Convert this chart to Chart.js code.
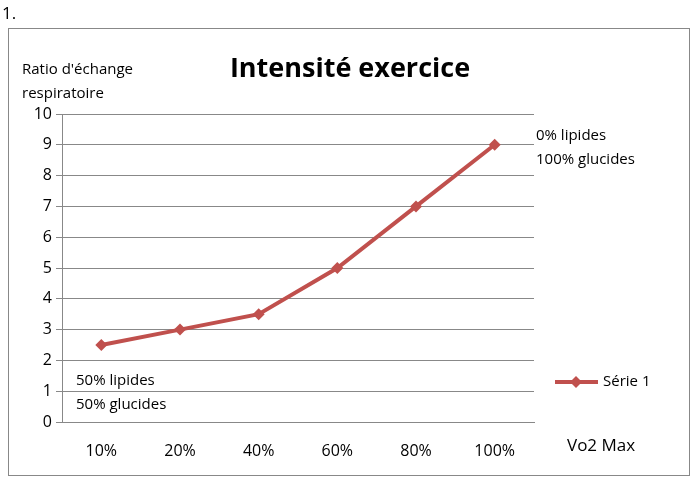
<!DOCTYPE html>
<html>
<head>
<meta charset="utf-8">
<script src="https://cdn.jsdelivr.net/npm/chart.js@4"></script>
<style>
  body { margin: 0; background: #fff; }
  #wrap { width: 695px; height: 482px; position: relative; }
</style>
</head>
<body>
<div id="wrap"><canvas id="c"></canvas></div>
<script>
// ========= Data =========
const categories = ['10%', '20%', '40%', '60%', '80%', '100%'];
const ratioValues = [2.5, 3, 3.5, 5, 7, 9];
const seriesName = 'Série 1';
const fontFam = '"Open Sans", "Noto Sans", sans-serif';
const red = '#C0504D';

// ========= Extra texts =========
const decor = {
  id: 'decor',
  afterDraw(chart) {
    const ctx = chart.ctx;
    ctx.save();
    ctx.strokeStyle = '#888';
    ctx.lineWidth = 1;
    ctx.strokeRect(8.5, 28.5, 681, 447);
    ctx.fillStyle = '#000';
    ctx.textBaseline = 'middle';
    ctx.font = '17px ' + fontFam;
    ctx.fillText('1.', 2, 14);
    ctx.font = 'bold 27px ' + fontFam;
    ctx.textAlign = 'center';
    ctx.fillText('Intensité exercice', 350, 69);
    ctx.textAlign = 'left';
    ctx.font = '15px ' + fontFam;
    ctx.fillText("Ratio d'échange", 22, 70);
    ctx.fillText('respiratoire', 22, 94);
    ctx.fillText('0% lipides', 536, 136);
    ctx.fillText('100% glucides', 536, 160);
    ctx.fillText('50% lipides', 76, 381);
    ctx.fillText('50% glucides', 76, 405);
    ctx.fillText(seriesName, 603, 382);
    ctx.font = '17px ' + fontFam;
    ctx.fillText('Vo2 Max', 567, 446);
    // legend marker
    ctx.strokeStyle = red; ctx.lineWidth = 4;
    ctx.beginPath(); ctx.moveTo(555, 382); ctx.lineTo(598, 382); ctx.stroke();
    ctx.fillStyle = red;
    ctx.beginPath();
    ctx.moveTo(576, 376); ctx.lineTo(582, 382); ctx.lineTo(576, 388); ctx.lineTo(570, 382);
    ctx.closePath(); ctx.fill();
    ctx.restore();
  }
};

new Chart(document.getElementById('c'), {
  type: 'line',
  data: {
    labels: categories,
    datasets: [{
      label: seriesName,
      data: ratioValues,
      borderColor: red,
      backgroundColor: red,
      borderWidth: 4,
      pointStyle: 'rectRot',
      pointRadius: 6,
      pointBorderWidth: 0,
      tension: 0
    }]
  },
  options: {
    responsive: true,
    maintainAspectRatio: false,
    animation: false,
    layout: { padding: { top: 114, right: 161, bottom: 8, left: 0 } },
    plugins: { legend: { display: false }, tooltip: { enabled: false } },
    scales: {
      x: {
        offset: true,
        afterFit(s) { s.height = 52; },
        grid: { display: false, drawTicks: true, tickLength: 6, color: '#888' },
        border: { color: '#888' },
        ticks: { color: '#000', font: { size: 16, family: fontFam }, padding: 14 }
      },
      y: {
        min: 0, max: 10,
        afterFit(s) { s.width = 62; },
        grid: { color: '#888', tickLength: 6 },
        border: { color: '#888' },
        ticks: { stepSize: 1, color: '#000', font: { size: 16, family: fontFam }, padding: 4 }
      }
    }
  },
  plugins: [decor]
});
</script>
</body>
</html>
